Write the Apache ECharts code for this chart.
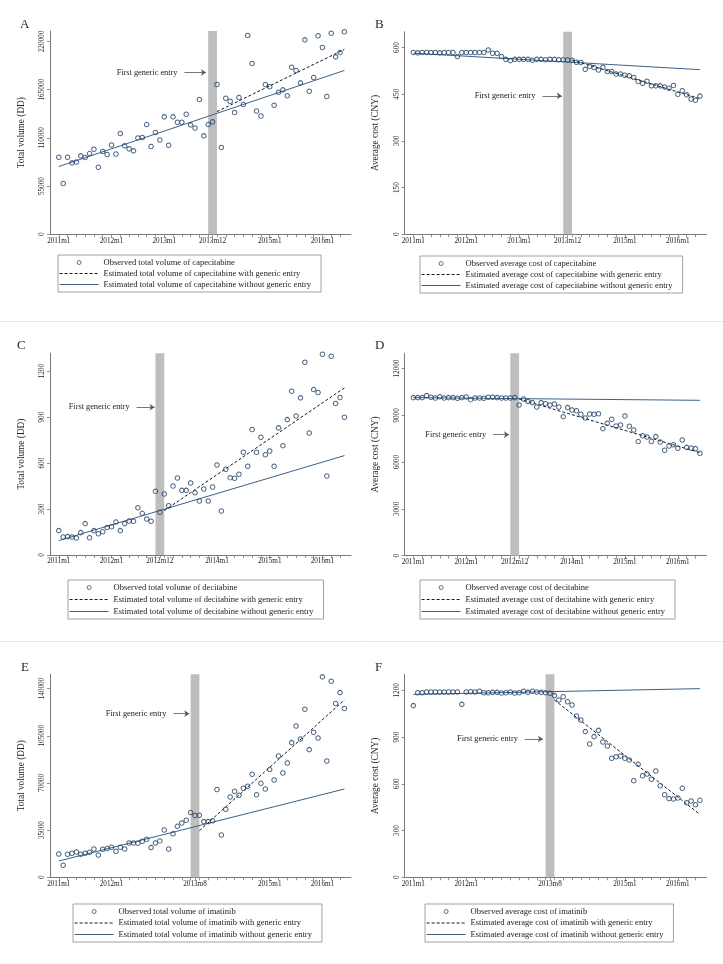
<!DOCTYPE html>
<html><head><meta charset="utf-8">
<script src="https://cdn.jsdelivr.net/npm/echarts@6/dist/echarts.min.js"></script>
<style>html,body{margin:0;padding:0;background:#fff}#c{width:723px;height:964px}</style>
</head><body><div id="c"></div><script>
// ---------- DATA ----------
const capeVolume = [87900,57900,87900,81500,82600,89500,87600,92100,97100,76500,94400,91000,102000,91700,115000,100900,97500,95200,110000,110400,125200,100100,116100,107700,134000,101600,134000,127900,127900,137000,124900,121400,153800,112300,125200,128300,170900,99000,155300,151900,138900,156100,148100,226900,194900,140800,135100,170900,168300,147300,162200,164800,158000,190700,186900,172800,221900,163300,178900,226500,213200,157200,229500,202500,207400,231100];
const capeCost = [584,583,584,584,584,584,583,584,584,584,571,584,584,584,584,584,584,592,582,582,571,562,558,562,562,562,562,559,562,562,561,562,562,561,561,560,559,553,552,530,539,536,528,537,523,523,515,515,511,509,504,491,485,492,477,477,477,473,469,478,450,461,448,435,431,444];
const deciVolume = [159,118,120,118,111,146,205,113,159,139,152,179,185,216,159,205,222,220,309,272,235,220,416,279,398,322,451,503,422,422,470,407,353,431,353,444,588,287,560,505,501,527,671,579,819,671,769,655,679,579,830,714,884,1069,908,1026,1259,797,1080,1061,1311,516,1298,989,1028,899];
const deciCost = [10140,10140,10140,10270,10160,10120,10200,10120,10140,10140,10100,10140,10180,10010,10120,10120,10100,10160,10160,10140,10120,10120,10120,10140,9670,10050,9900,9820,9540,9820,9750,9670,9730,9540,8920,9500,9350,9300,9070,8830,9090,9070,9110,8150,8490,8750,8320,8380,8960,8300,8060,7320,7700,7620,7320,7640,7290,6760,7040,7120,6890,7420,6950,6910,6870,6570];
const imatVolume = [17300,8900,17100,17800,18800,17100,17800,18600,21000,16600,20800,21300,22300,19300,22300,21000,25500,25500,25200,26700,28200,22000,25500,27000,35100,21000,32200,37800,40300,42300,48000,45800,46000,41300,41300,42000,65100,31400,50500,59600,63800,60800,66000,67500,76400,61300,69700,65500,79900,72200,90000,77400,84800,99900,112300,102600,124700,94700,107600,103400,148700,86300,145400,128900,137000,125200];
const imatCost = [1102,1185,1185,1189,1189,1189,1189,1189,1189,1189,1189,1110,1189,1191,1189,1194,1185,1185,1187,1187,1183,1185,1189,1183,1185,1194,1187,1194,1189,1187,1185,1181,1166,1138,1159,1127,1106,1035,1010,935,856,903,943,868,843,764,774,779,764,753,620,725,652,663,629,682,588,530,505,503,509,571,479,490,466,494];

// estimated trend lines: [value at start, value at last month]
const capeVolumeWithout = [77300, 187000];
const capeVolumeWith = [140000, 211000];
const capeCostWithout = [582, 529];
const capeCostWith = [560, 436];
const deciVolumeWithout = [94, 649];
const deciVolumeWith = [290, 1091];
const deciCostWithout = [10139, 9968];
const deciCostWith = [10053, 6610];
const imatVolumeWithout = [12100, 65500];
const imatVolumeWith = [34600, 131600];
const imatCostWithout = [1174, 1211];
const imatCostWith = [1138, 404];

// month index of first generic entry
const entryCape = 35;  // 2013m12
const entryDeci = 23;  // 2012m12
const entryImat = 31;  // 2013m8

// labelled x ticks (month index from 2011m1)
const ticksCape = [0, 12, 24, 35, 48, 60];
const ticksDeci = [0, 12, 23, 36, 48, 60];
const ticksImat = [0, 12, 31, 48, 60];

// y ticks
const yTicksCapeVol = [0, 55000, 110000, 165000, 220000];
const yTicksCapeCost = [0, 150, 300, 450, 600];
const yTicksDeciVol = [0, 300, 600, 900, 1200];
const yTicksDeciCost = [0, 3000, 6000, 9000, 12000];
const yTicksImatVol = [0, 35000, 70000, 105000, 140000];
const yTicksImatCost = [0, 300, 600, 900, 1200];

const nMonths = capeVolume.length; // 66 months, 2011m1..2016m6
const lastIdx = nMonths - 1;
const monthLabel = v => (2011 + Math.floor(v / 12)) + 'm' + (v % 12 + 1);
const minorTicks = [];
for (let i = 0; i <= lastIdx; i += 2) minorTicks.push(i);

// ---------- LAYOUT ----------
const FONT = '"Liberation Serif","Times New Roman",serif';
const NAVY = '#1f4166';
const LINE = '#3d6186';

const panels = [
  {letter:'A', drug:'capecitabine', measure:'total volume', yName:'Total volume (DD)', obs:capeVolume, without:capeVolumeWithout, withE:capeVolumeWith, entry:entryCape, ticks:ticksCape, yTicks:yTicksCapeVol, yMax:232000,
   arrow:{x0:28.6, x1:33.5, y:184600}, grid:{left:50, top:31, width:301, height:203.3}, legend:{left:58, top:255, gap:2}, lt:{left:15, top:13}},
  {letter:'B', drug:'capecitabine', measure:'average cost', yName:'Average cost (CNY)', obs:capeCost, without:capeCostWithout, withE:capeCostWith, entry:entryCape, ticks:ticksCape, yTicks:yTicksCapeCost, yMax:651,
   arrow:{x0:29.3, x1:33.7, y:444.6}, grid:{left:404.5, top:31.7, width:302, height:202.6}, legend:{left:420, top:256, gap:2}, lt:{left:370, top:13}},
  {letter:'C', drug:'decitabine', measure:'total volume', yName:'Total volume (DD)', obs:deciVolume, without:deciVolumeWithout, withE:deciVolumeWith, entry:entryDeci, ticks:ticksDeci, yTicks:yTicksDeciVol, yMax:1317,
   arrow:{x0:17.7, x1:21.8, y:965}, grid:{left:50, top:353.3, width:301, height:201.7}, legend:{left:68, top:580, gap:3}, lt:{left:12, top:334}},
  {letter:'D', drug:'decitabine', measure:'average cost', yName:'Average cost (CNY)', obs:deciCost, without:deciCostWithout, withE:deciCostWith, entry:entryDeci, ticks:ticksDeci, yTicks:yTicksDeciCost, yMax:12984,
   arrow:{x0:18.1, x1:21.7, y:7765}, grid:{left:404.5, top:353.3, width:302, height:202.4}, legend:{left:420, top:580, gap:3}, lt:{left:370, top:334}},
  {letter:'E', drug:'imatinib', measure:'total volume', yName:'Total volume (DD)', obs:imatVolume, without:imatVolumeWithout, withE:imatVolumeWith, entry:entryImat, ticks:ticksImat, yTicks:yTicksImatVol, yMax:150600,
   arrow:{x0:26.1, x1:29.7, y:121400}, grid:{left:50, top:674.3, width:301, height:203}, legend:{left:73, top:904, gap:2.5}, lt:{left:16, top:656}},
  {letter:'F', drug:'imatinib', measure:'average cost', yName:'Average cost (CNY)', obs:imatCost, without:imatCostWithout, withE:imatCostWith, entry:entryImat, ticks:ticksImat, yTicks:yTicksImatCost, yMax:1303,
   arrow:{x0:25.3, x1:29.4, y:887.7}, grid:{left:404.5, top:674.3, width:302, height:203}, legend:{left:425, top:904, gap:2.5}, lt:{left:370, top:656}}
];

const option = {
  animation: false,
  backgroundColor: '#fff',
  title: [], grid: [], xAxis: [], yAxis: [], series: [], legend: [],
  graphic: [
    {type:'line', shape:{x1:0, y1:321.5, x2:723, y2:321.5}, style:{stroke:'#e4e4e4', lineWidth:1}},
    {type:'line', shape:{x1:0, y1:641.5, x2:723, y2:641.5}, style:{stroke:'#e4e4e4', lineWidth:1}}
  ]
};

panels.forEach((p, k) => {
  const nObs = `Observed ${p.measure} of ${p.drug}`;
  const nWith = `Estimated ${p.measure} of ${p.drug} with generic entry`;
  const nWithout = `Estimated ${p.measure} of ${p.drug} without generic entry`;

  option.title.push({text: p.letter, left: p.lt.left, top: p.lt.top,
    textStyle:{fontFamily: FONT, fontSize: 13, fontWeight:'normal', color:'#1d2433'}});

  option.grid.push({left: p.grid.left, top: p.grid.top, width: p.grid.width, height: p.grid.height, containLabel:false});

  const tickSet = Array.from(new Set(minorTicks.concat(p.ticks))).sort((a,b)=>a-b);
  option.xAxis.push({
    type:'value', gridIndex:k, min:-2, max:66.5,
    axisLine:{show:true, onZero:false, lineStyle:{color:'#7a7a7a', width:1}},
    axisTick:{show:true, length:3, customValues: tickSet, lineStyle:{color:'#7a7a7a', width:0.8}},
    axisLabel:{show:true, customValues: p.ticks, formatter: v => monthLabel(v), margin:3,
      fontFamily: FONT, fontSize: 7.2, color:'#222'},
    splitLine:{show:false}
  });
  option.yAxis.push({
    type:'value', gridIndex:k, min:0, max:p.yMax,
    name: p.yName, nameLocation:'middle', nameRotate:90, nameGap:24,
    nameTextStyle:{fontFamily: FONT, fontSize: 9.3, color:'#222'},
    axisLine:{show:true, onZero:false, lineStyle:{color:'#7a7a7a', width:1}},
    axisTick:{show:true, length:3, customValues: p.yTicks, lineStyle:{color:'#7a7a7a', width:0.8}},
    axisLabel:{show:true, customValues: p.yTicks, rotate:90, margin:4, formatter: v => String(v),
      fontFamily: FONT, fontSize: 7.2, color:'#222'},
    splitLine:{show:false}
  });

  // counterfactual trend (solid)
  option.series.push({
    name: nWithout, type:'line', xAxisIndex:k, yAxisIndex:k, z:1,
    data: [[0, p.without[0]], [lastIdx, p.without[1]]],
    symbol:'none', silent:true,
    lineStyle:{color: LINE, width:1, type:'solid'}, itemStyle:{color: LINE}
  });
  // estimated trend with generic entry (dashed)
  option.series.push({
    name: nWith, type:'line', xAxisIndex:k, yAxisIndex:k, z:1,
    data: [[p.entry + 1, p.withE[0]], [lastIdx, p.withE[1]]],
    symbol:'none', silent:true,
    lineStyle:{color:'#1a1a1a', width:1, type:[3,2]}, itemStyle:{color:'#1a1a1a'}
  });
  // entry band + annotation
  option.series.push({
    name: 'band' + k, type:'line', xAxisIndex:k, yAxisIndex:k, z:2,
    data: [[p.entry, 0]], symbol:'none', silent:true,
    lineStyle:{opacity:0},
    markArea:{silent:true, itemStyle:{color:'#bebebe', opacity:1},
      data:[[{xAxis: p.entry - 1}, {xAxis: p.entry + 1}]]},
    markLine:{silent:true, symbol:['none','arrow'], symbolSize:5,
      lineStyle:{color:'#555', width:0.8, type:'solid'},
      label:{show:true, position:'start', distance:7, formatter:'First generic entry',
        fontFamily: FONT, fontSize: 8.3, color:'#222'},
      data:[[{coord:[p.arrow.x0, p.arrow.y]}, {coord:[p.arrow.x1, p.arrow.y]}]]}
  });
  // observed
  option.series.push({
    name: nObs, type:'scatter', xAxisIndex:k, yAxisIndex:k, z:3,
    data: p.obs.map((v, i) => [i, v]),
    symbol:'circle', symbolSize:4.5, silent:true,
    itemStyle:{color:'rgba(255,255,255,0)', borderColor: NAVY, borderWidth:1.05}
  });

  option.legend.push({
    orient:'vertical', left: p.legend.left, top: p.legend.top,
    itemWidth:39, itemHeight:4, itemGap: p.legend.gap,
    padding:[3, 10, 3, 1], borderColor:'#8a8a8a', borderWidth:0.8,
    selectedMode:false,
    textStyle:{fontFamily: FONT, fontSize: 8.5, color:'#222', lineHeight:9},
    data:[
      {name:nObs, itemStyle:{color:'rgba(255,255,255,0)', borderColor: NAVY, borderWidth:0.9}},
      {name:nWith, itemStyle:{opacity:0}, lineStyle:{color:'#1a1a1a', width:1, type:[3,2]}},
      {name:nWithout, itemStyle:{opacity:0}, lineStyle:{color: LINE, width:1.2, type:'solid'}}
    ]
  });
});

const chart = echarts.init(document.getElementById('c'), null, {renderer:'canvas'});
chart.setOption(option);
</script></body></html>
